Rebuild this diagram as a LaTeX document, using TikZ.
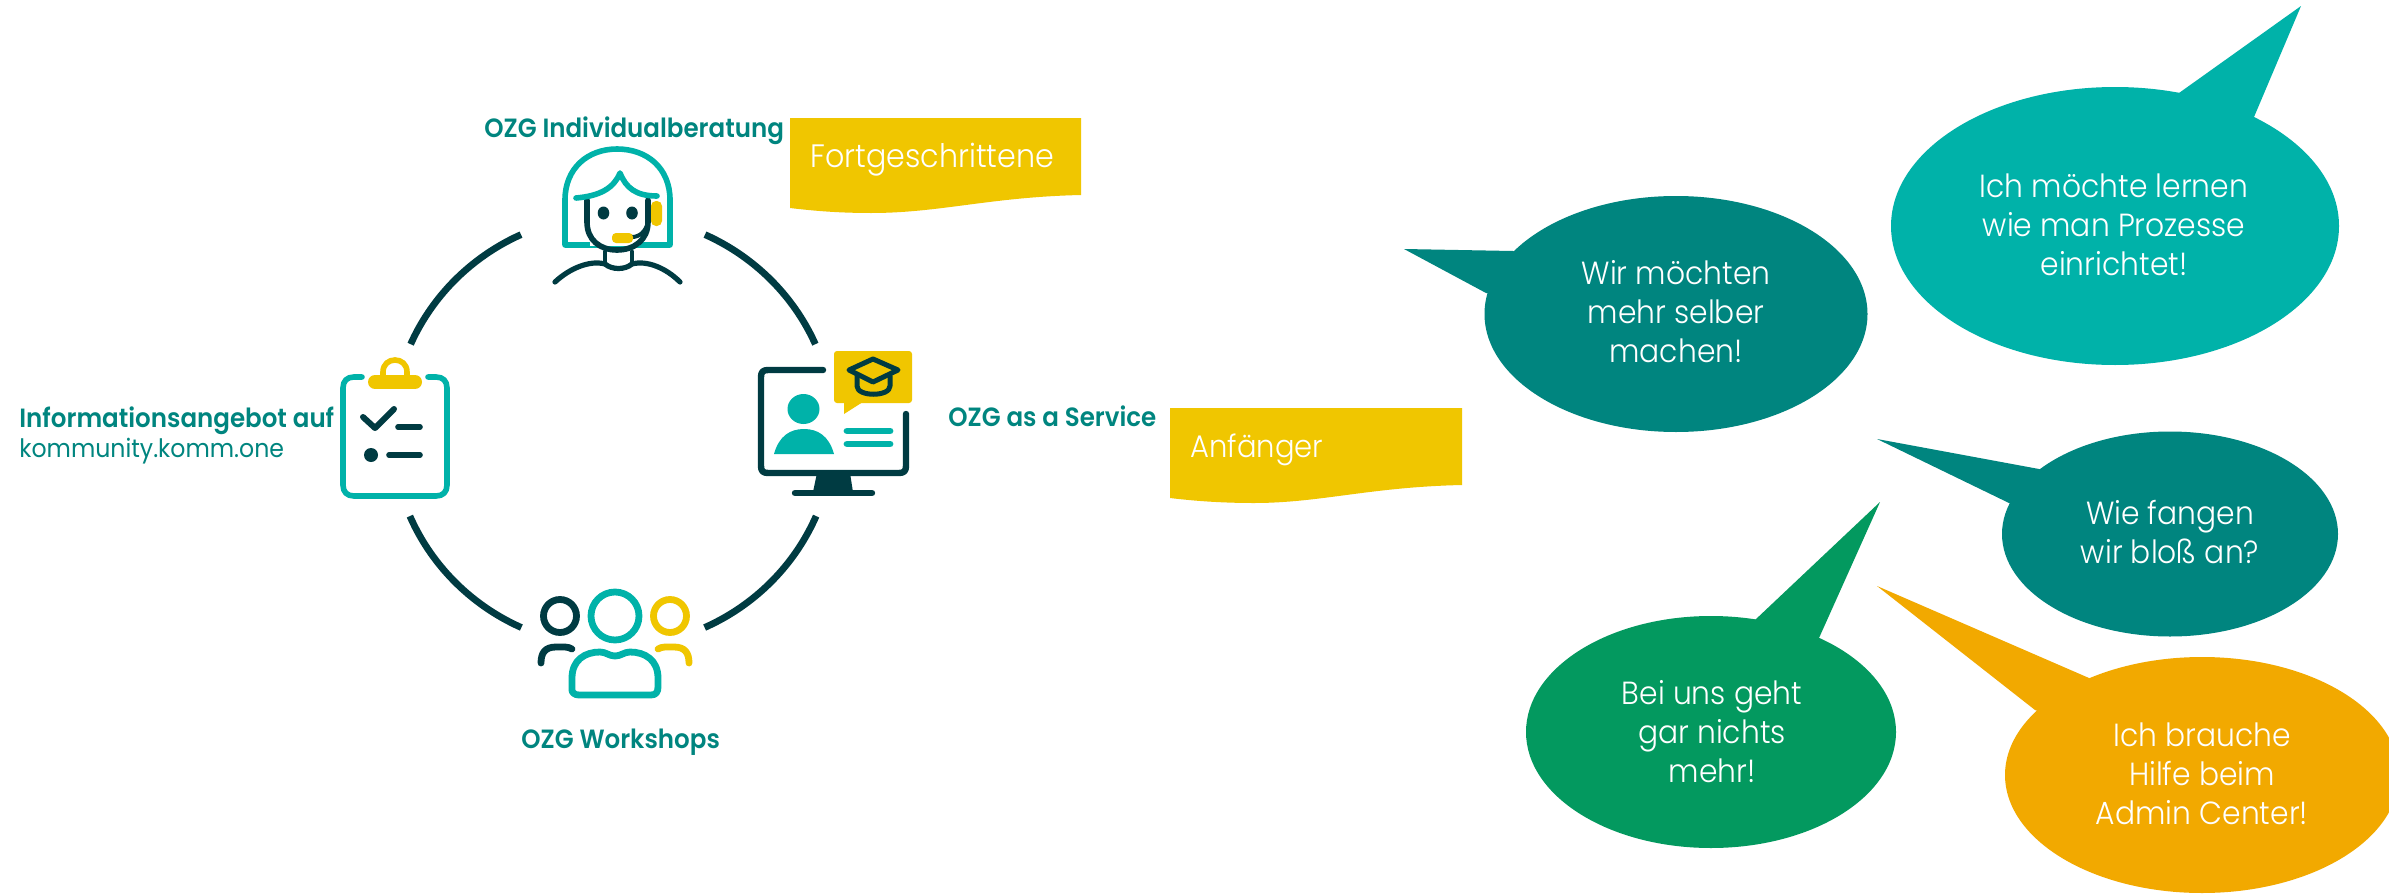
\documentclass[tikz,border=0pt]{standalone}
\usepackage{fontspec}
\usetikzlibrary{shapes.geometric}
\setmainfont{Poppins}
\newfontfamily\fnormal[FakeStretch=0.93]{Poppins}
\newfontfamily\flight[FakeStretch=0.93]{Poppins Light}
\newfontfamily\fbold[FakeStretch=0.93]{Poppins SemiBold}
\definecolor{darkpetrol}{HTML}{003B42}
\definecolor{lightteal}{HTML}{00B2A9}
\definecolor{midteal}{HTML}{00857F}
\definecolor{sun}{HTML}{F0C600}
\definecolor{leaf}{HTML}{03995F}
\definecolor{amber}{HTML}{F2A900}
\tikzset{
  ringarc/.style={draw=darkpetrol,line width=3.4pt},
  ico/.style={line width=#1,line cap=round,line join=round},
  ico/.default=2.8pt,
  headb/.style={font=\fbold\fontsize{13.2}{15}\selectfont,text=midteal,anchor=base west,inner sep=0pt},
  headn/.style={font=\fnormal\fontsize{12.7}{15}\selectfont,text=midteal,anchor=base west,inner sep=0pt},
  flagtext/.style={font=\flight\fontsize{16.2}{19}\selectfont,text=white,anchor=base west,inner sep=0pt},
  bubbletext/.style={font=\flight\fontsize{16}{19.4}\selectfont,text=white,align=center,inner sep=0pt,anchor=base},
  bubble/.style={ellipse,inner sep=0pt,draw=none,fill=#1},
}
\begin{document}
\begin{tikzpicture}[x=0.5pt,y=-0.5pt]
\useasboundingbox (0,0) rectangle (2389,894);
\fill[white] (0,0) rectangle (2389,894);

% ring
\draw[ringarc] plot[domain=114.6:156.3,samples=40] ({613+221*cos(\x)},{431-216*sin(\x)});
\draw[ringarc] plot[domain=65.4:23.7,samples=40] ({613+221*cos(\x)},{431-216*sin(\x)});
\draw[ringarc] plot[domain=203.2:245.5,samples=40] ({613+221*cos(\x)},{431-216*sin(\x)});
\draw[ringarc] plot[domain=294.5:336.8,samples=40] ({613+221*cos(\x)},{431-216*sin(\x)});

% advisor icon
\draw[ico,draw=lightteal] (565,245) -- (565,200) .. controls (565,168) and (588,149) .. (617,149) .. controls (647,149) and (670,168) .. (670,200) -- (670,245) -- cycle;
\fill[white] (590,235) rectangle (640,246);
\fill[sun,rounded corners=2.5pt] (651,201) rectangle (662,226);
\draw[ico,draw=darkpetrol] (587,200) -- (587,222) .. controls (587,240) and (600,250) .. (617,250) .. controls (634,250) and (648,240) .. (648,222) -- (648,200);
\draw[ico,draw=lightteal] (576,198) .. controls (600,196) and (614,188) .. (620,173) .. controls (626,188) and (636,196) .. (657,196);
\fill[darkpetrol] (603.5,213) ellipse [x radius=5.8,y radius=6.5];
\fill[darkpetrol] (632,213) ellipse [x radius=5.8,y radius=6.5];
\draw[ico=2pt,draw=darkpetrol] (632,237) .. controls (640,237) and (646,231) .. (648,222);
\fill[sun,rounded corners=2pt] (612,233) rectangle (633,243);
\draw[ico=2.4pt,draw=darkpetrol] (605,252) -- (605,264);
\draw[ico=2.4pt,draw=darkpetrol] (632,252) -- (632,264);
\draw[ico=2.6pt,draw=darkpetrol] (555,282) .. controls (570,268) and (590,260) .. (605,264) .. controls (612,270) and (625,270) .. (632,264) .. controls (647,260) and (666,268) .. (680,282);

% clipboard icon
\draw[ico,draw=lightteal] (362,377) -- (354,377) .. controls (347,377) and (343,381) .. (343,388) -- (343,485) .. controls (343,492) and (347,496) .. (354,496) -- (436,496) .. controls (443,496) and (447,492) .. (447,485) -- (447,388) .. controls (447,381) and (443,377) .. (436,377) -- (428,377);
\draw[ico,draw=sun] (383,380) -- (383,372) .. controls (383,356) and (407,356) .. (407,372) -- (407,380);
\draw[line width=7pt,line cap=round,draw=sun] (375,382) -- (415,382);
\draw[ico,draw=darkpetrol,line width=3pt] (363,417) -- (375,428) -- (394,409);
\draw[ico,draw=darkpetrol] (398,427) -- (420,427);
\fill[darkpetrol] (371,455) circle [radius=7];
\draw[ico,draw=darkpetrol] (389,455) -- (420,455);

% monitor icon
\draw[ico=3.2pt,draw=darkpetrol] (823,370) -- (768,370) .. controls (763,370) and (761,372) .. (761,377) -- (761,466) .. controls (761,471) and (763,473) .. (768,473) -- (899,473) .. controls (904,473) and (906,471) .. (906,466) -- (906,414);
\fill[darkpetrol] (817,473) -- (850,473) -- (853,492) -- (813,492) -- cycle;
\draw[ico=3.2pt,draw=darkpetrol] (795,493) -- (872,493);
\fill[sun,rounded corners=1.5pt] (834,351) rectangle (912,403);
\fill[sun] (844,400) -- (844,414) -- (866,400) -- cycle;
\draw[ico=2.5pt,draw=darkpetrol] (873,359) -- (849,370) -- (873,382) -- (898,370) -- cycle;
\draw[ico=2.5pt,draw=darkpetrol] (857,376) -- (857,386) .. controls (857,397) and (890,397) .. (890,386) -- (890,376);
\fill[lightteal] (803.5,409) ellipse [x radius=16,y radius=15];
\fill[lightteal] (774,454) .. controls (779,436) and (790,429) .. (804,429) .. controls (818,429) and (829,436) .. (834,454) -- cycle;
\draw[line width=3.4pt,line cap=round,draw=lightteal] (847,431) -- (890,431);
\draw[line width=3.4pt,line cap=round,draw=lightteal] (847,444) -- (890,444);

% people icon
\draw[line width=3.4pt,draw=darkpetrol] (560,616) circle [radius=16.5];
\draw[line width=3.4pt,draw=lightteal] (615,616) circle [radius=24];
\draw[line width=3.4pt,draw=sun] (670,616) circle [radius=16.5];
\draw[ico=3.4pt,draw=darkpetrol] (541,663) .. controls (541,653) and (545,647) .. (556,647) -- (565,647) .. controls (568,647) and (570,648) .. (572,649);
\draw[ico=3.4pt,draw=sun] (689,663) .. controls (689,653) and (685,647) .. (674,647) -- (665,647) .. controls (662,647) and (660,648) .. (658,649);
\draw[ico=3.4pt,draw=lightteal] (572,690) -- (572,678) .. controls (572,660) and (585,652) .. (600,652) .. controls (606,652) and (609,656) .. (615,656) .. controls (621,656) and (624,652) .. (630,652) .. controls (645,652) and (658,660) .. (658,678) -- (658,687) .. controls (658,692) and (656,695) .. (651,695) -- (579,695) .. controls (574,695) and (572,692) .. (572,690) -- cycle;

% flags
\fill[sun] (790,118) -- (1081,118) -- (1081,195) .. controls (990,197) and (940,213) .. (871,213) .. controls (840,213) and (815,211) .. (790,208) -- cycle;
\fill[sun] (1170,408) -- (1462,408) -- (1462,485) .. controls (1370,487) and (1320,503) .. (1254,503) .. controls (1222,503) and (1195,501) .. (1170,498) -- cycle;

% labels
\node[headb] (lblberatung) at (484,137) {OZG Individualberatung};
\node[flagtext] (lblfort) at (810,167) {Fortgeschrittene};
\node[headb] (lblinfo) at (19,427) {Informationsangebot auf};
\node[headn] (lblkomm) at (19,457) {kommunity.komm.one};
\node[headb] (lblservice) at (948,426) {OZG as a Service};
\node[flagtext,font=\flight\fontsize{15.6}{19}\selectfont] (lblanf) at (1190,457) {Anfänger};
\node[headb] (lblwork) at (521,748) {OZG Workshops};

% speech bubbles
\coordinate (tipA) at (2301,6);
\coordinate (tipB) at (1404,249);
\coordinate (tipC) at (1877,439);
\coordinate (tipD) at (1880,502);
\coordinate (tipE) at (1877,586);
\node[bubble=lightteal,minimum width=224pt,minimum height=139pt] (bubA) at (2115,226) {};
\fill[lightteal] (tipA) -- (2179,93) -- (bubA.center) -- (2254,117) -- cycle;
\node[bubble=midteal,minimum width=191.5pt,minimum height=118pt] (bubB) at (1676,314) {};
\fill[midteal] (tipB) -- (1513,251) -- (bubB.center) -- (1486,293) -- cycle;
\node[bubble=midteal,minimum width=168pt,minimum height=102.5pt] (bubC) at (2170,534) {};
\fill[midteal] (tipC) -- (2039,469) -- (bubC.center) -- (2009,503) -- cycle;
\node[bubble=leaf,minimum width=185pt,minimum height=116pt] (bubD) at (1711,732) {};
\fill[leaf] (tipD) -- (1755,620) -- (bubD.center) -- (1819,638) -- cycle;
\node[bubble=amber,minimum width=197pt,minimum height=118pt] (bubE) at (2202,775) {};
\fill[amber] (tipE) -- (2089,678) -- (bubE.center) -- (2035,710) -- cycle;
\node[bubbletext] (txtA) at (2114,275) {Ich möchte lernen\\wie man Prozesse\\einrichtet!};
\node[bubbletext] (txtB) at (1676,362) {Wir möchten\\mehr selber\\machen!};
\node[bubbletext] (txtC) at (2170,563) {Wie fangen\\wir bloß an?};
\node[bubbletext] (txtD) at (1712,782) {Bei uns geht\\gar nichts\\mehr!};
\node[bubbletext] (txtE) at (2202,824) {Ich brauche\\Hilfe beim\\Admin Center!};
\end{tikzpicture}
\end{document}
